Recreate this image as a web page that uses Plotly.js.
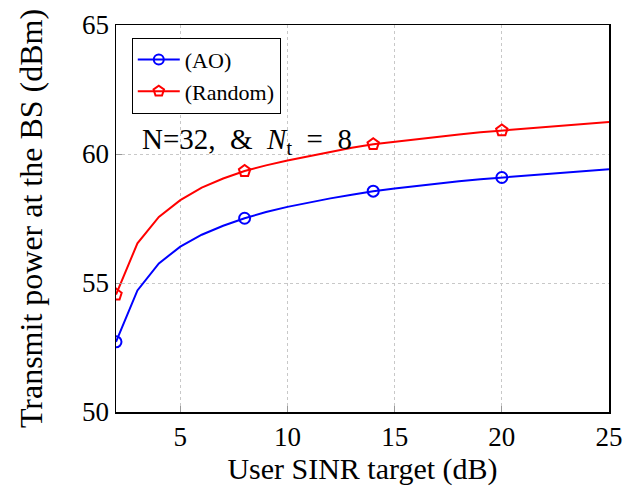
<!DOCTYPE html>
<html><head><meta charset="utf-8">
<script src="https://cdn.plot.ly/plotly-3.0.1.min.js"></script>
<style>body{margin:0;background:#fff}</style>
</head><body>
<div id="chart" style="width:626px;height:494px"></div>
<script>
const sinr = [2,3,4,5,6,7,8,9,10,11,12,13,14,15,16,17,18,19,20,21,22,23,24,25];
const powerAO = [52.72,54.71,55.76,56.41,56.87,57.22,57.51,57.75,57.95,58.12,58.28,58.42,58.56,58.66,58.76,58.85,58.94,59.02,59.09,59.16,59.23,59.29,59.35,59.41];
const powerRandom = [54.55,56.54,57.56,58.21,58.70,59.05,59.34,59.56,59.75,59.92,60.09,60.24,60.38,60.48,60.58,60.67,60.76,60.84,60.91,60.98,61.05,61.11,61.18,61.24];
const markerSinr = [2,8,14,20];
const seriesNames = ['(AO)','(Random)'];
const xTicks = [5,10,15,20,25];
const yTicks = [50,55,60,65];

function pick(xs, ys, sel){ return sel.map(v => ys[xs.indexOf(v)]); }

const font = 'Liberation Serif, DejaVu Serif, serif';
const series = [
  {name: seriesNames[0], y: powerAO, color: '#0000ff', symbol: 'circle-open', size: 11},
  {name: seriesNames[1], y: powerRandom, color: '#ff0000', symbol: 'pentagon-open', size: 12}
];
const traces = [];
series.forEach(s => {
  traces.push({x: sinr, y: s.y, mode: 'lines', line: {color: s.color, width: 2}, showlegend: false, hoverinfo: 'skip'});
  traces.push({x: markerSinr, y: pick(sinr, s.y, markerSinr), mode: 'markers', showlegend: false,
    marker: {symbol: s.symbol, size: s.size, color: s.color, line: {color: s.color, width: 2}}});
  traces.push({x: [null], y: [null], mode: 'lines+markers', name: s.name,
    line: {color: s.color, width: 2},
    marker: {symbol: s.symbol, size: s.size - 1, color: s.color, line: {color: s.color, width: 2}}});
});

const layout = {
  width: 626, height: 494,
  margin: {l: 116, r: 17, t: 25, b: 82},
  paper_bgcolor: '#fff', plot_bgcolor: '#fff',
  font: {family: font, size: 27, color: '#000'},
  showlegend: true,
  legend: {x: 0.032, y: 0.967, xanchor: 'left', yanchor: 'top', bordercolor: '#000', borderwidth: 1,
    bgcolor: '#fff', font: {family: font, size: 22}, tracegroupgap: 0, itemwidth: 42},
  xaxis: {range: [2, 25], tickvals: xTicks, ticktext: xTicks.map(String),
    showgrid: true, gridcolor: '#c8c8c8', griddash: 'dot', gridwidth: 1,
    zeroline: false, showline: true, linecolor: '#000', linewidth: 1.5, mirror: true,
    ticks: 'inside', ticklen: 6, tickcolor: '#999', tickfont: {size: 27},
    title: {text: 'User SINR target (dB)', font: {size: 30}, standoff: 0}},
  yaxis: {range: [50, 65], tickvals: yTicks, ticktext: yTicks.map(String),
    showgrid: true, gridcolor: '#c8c8c8', griddash: 'dot', gridwidth: 1,
    zeroline: false, showline: true, linecolor: '#000', linewidth: 1.5, mirror: true,
    ticks: 'inside', ticklen: 6, tickcolor: '#999', tickfont: {size: 27},
    title: {text: 'Transmit power at the BS (dBm)', font: {size: 32}, standoff: 30}},
  annotations: [{xref: 'paper', yref: 'paper', x: 0.048, y: 0.70, xanchor: 'left', yanchor: 'middle',
    text: 'N=32,&nbsp; &amp;&nbsp; <i>N</i><sub>t</sub>&nbsp; =&nbsp; 8', showarrow: false, font: {family: font, size: 29}}]
};
Plotly.newPlot('chart', traces, layout, {displayModeBar: false, staticPlot: true});
</script>
</body></html>
